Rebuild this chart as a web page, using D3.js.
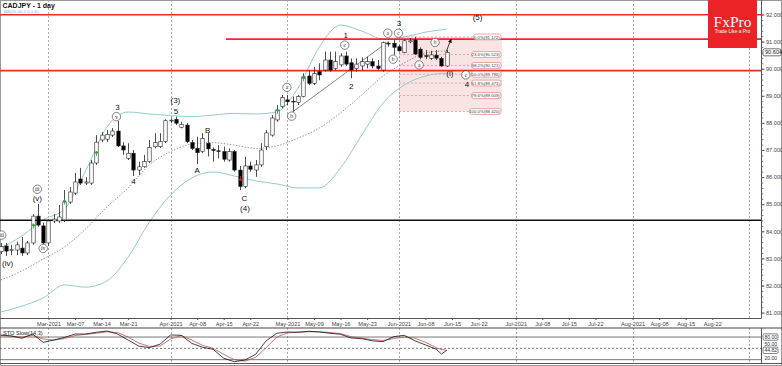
<!DOCTYPE html>
<html>
<head>
<meta charset="utf-8">
<script src="https://cdn.jsdelivr.net/npm/d3@7"></script>
<style>
  body { margin: 0; background: #fff; }
  svg { display: block; font-family: "Liberation Sans", Arial, sans-serif; }
</style>
</head>
<body>
<div id="app"></div>
<script>
// ---- data ----
const symbolTitle = "CADJPY - 1 day"
const bbTitle = "BB(20,20,2.0,1.0)"
const stoTitle = "STO Slow(14,3)"

const firstDay = "2021-02-16"
const lastAxisDay = "2021-09-10"

const open  = [83.25,83.46,83.30,83.31,83.38,83.20,83.57,84.56,84.20,83.57,84.38,84.38,84.42,85.08,85.41,85.93,85.78,85.78,86.52,87.37,87.40,87.55,87.70,87.15,86.69,86.88,86.26,86.38,86.57,87.12,87.12,87.31,88.08,88.13,87.84,87.92,87.27,87.06,86.94,87.25,87.02,86.97,86.94,86.63,86.94,86.26,85.65,86.41,86.26,86.45,87.12,87.55,88.11,88.60,88.85,88.80,88.75,88.97,89.73,89.46,89.89,89.95,90.32,90.01,90.14,90.47,90.22,90.01,90.10,90.17,90.26,90.10,89.95,90.94,90.94,90.81,90.59,90.99,91.06,90.72,90.48,90.38,90.50,90.38,90.10]
const high  = [83.57,83.57,83.50,83.62,83.79,83.64,84.64,85.01,84.31,84.45,84.64,84.97,85.52,85.63,86.15,86.34,86.00,86.63,87.55,87.66,87.74,87.81,88.07,87.29,87.25,87.00,86.57,86.82,87.37,87.62,87.62,88.13,88.17,88.23,88.04,88.00,87.37,87.49,87.62,87.62,87.10,87.18,87.12,87.06,87.00,86.41,86.75,86.57,86.63,87.25,87.74,88.29,88.66,89.03,89.03,88.97,89.03,89.83,89.95,90.07,90.20,90.63,90.63,90.63,90.57,90.63,90.38,90.38,90.42,90.44,90.38,90.32,91.00,91.00,91.06,90.87,91.08,91.12,91.17,90.79,90.69,90.66,90.69,90.44,90.69]
const low   = [83.16,83.09,83.12,83.12,83.09,83.12,83.50,84.16,83.50,83.46,84.31,84.31,84.34,85.01,85.34,85.71,85.71,85.71,86.45,87.29,87.29,87.48,87.11,86.82,86.63,86.04,86.08,86.34,86.51,87.06,87.07,87.26,87.99,87.92,87.80,87.25,87.00,86.48,86.88,86.76,86.57,86.69,86.57,86.57,86.20,85.52,85.59,86.20,86.01,86.38,87.00,87.49,88.04,88.54,88.66,88.41,88.66,88.94,89.40,89.40,89.58,89.89,89.89,89.95,90.07,90.10,89.65,89.89,89.95,90.01,90.01,89.95,89.89,90.81,90.51,90.63,90.57,90.94,90.51,90.35,90.35,90.32,90.32,90.07,90.07]
const close = [83.44,83.27,83.32,83.50,83.20,83.57,84.56,84.23,83.57,84.38,84.45,84.53,85.08,85.45,85.82,85.78,85.82,86.52,87.29,87.55,87.58,87.70,87.15,87.00,86.88,86.26,86.38,86.57,87.10,87.27,87.31,88.08,88.10,87.99,87.95,87.31,87.06,86.90,87.43,87.04,86.98,86.95,86.66,86.94,86.26,85.65,86.41,86.29,86.45,87.00,87.63,88.18,88.48,88.94,88.78,88.78,88.97,89.70,89.46,89.83,89.77,90.32,89.95,90.26,90.47,90.17,89.95,90.17,90.26,90.26,90.10,90.01,90.96,90.91,90.79,90.66,91.03,91.03,90.54,90.42,90.46,90.51,90.39,90.10,90.604]

// Bollinger bands read at every 4th bar
const bandIdx   = [0,4,8,12,16,20,24,28,32,36,40,44,48,52,56,60,64,68,72,76,80,84]
const bandUpper = [83.38,83.83,84.42,84.82,86.23,87.85,88.40,88.33,88.27,88.23,88.29,88.35,88.33,88.41,89.29,90.80,91.61,91.39,91.10,91.17,91.35,91.46]
const bandMid   = [82.20,82.54,82.98,83.42,84.09,84.90,85.60,86.45,86.94,87.22,87.27,87.18,87.06,87.15,87.44,87.81,88.37,89.03,89.73,90.21,90.58,90.66]
const bandLower = [81.02,81.24,81.54,82.02,81.94,82.17,83.05,84.34,85.34,85.97,86.19,86.04,85.86,85.75,85.60,85.60,86.34,87.55,88.73,89.40,89.73,89.84]

// stochastic
const stoIdx = [0,2,4,6,8,10,12,14,16,18,20,22,24,26,28,30,32,34,36,38,40,42,44,46,48,50,52,54,56,58,60,62,64,66,68,70,72,74,76,78,80,82,83,84]
const stoK = [85.5,83,76.7,88,66,72,79,88,88,92.6,96,88,72,56,52,61,85.5,84.6,63,53,47.5,23.6,14.6,19,34,70,90,93.4,92.6,95.3,93.4,90,87.3,77.5,75.7,70,67.7,81,84.6,70,59,48,35,44.82]
const stoD = [84,82,80,84,75,72,76,84,87,90,94,92,80,64,55,56,75,84,72,58,50,34,20,16,26,52,80,91,93,94,94,92,89,81,77,73,71,76,80,77,66,52,47,45]
const stoLevels = [80, 50, 20]

// axes
const priceTicks = [81,82,83,84,85,86,87,88,89,90,91,92]
const xTickLabels = ["Mar-2021","Mar-07","Mar-14","Mar-21","Apr-2021","Apr-08","Apr-15","Apr-22","May-2021","May-09","May-16","May-23","Jun-2021","Jun-08","Jun-15","Jun-22","Jul-2021","Jul-08","Jul-15","Jul-22","Aug-2021","Aug-08","Aug-15","Aug-22"]
const xTickDates = ["2021-03-01","2021-03-08","2021-03-15","2021-03-22","2021-04-01","2021-04-08","2021-04-15","2021-04-22","2021-05-03","2021-05-10","2021-05-17","2021-05-24","2021-06-01","2021-06-08","2021-06-15","2021-06-22","2021-07-01","2021-07-08","2021-07-15","2021-07-22","2021-08-02","2021-08-09","2021-08-16","2021-08-23"]
const monthStarts = ["2021-03-01","2021-04-01","2021-05-03","2021-06-01","2021-07-01","2021-08-02","2021-09-01"]

// horizontal levels
const redLevels = [{ p: 91.99, from: 0 }, { p: 91.09, from: 43 }, { p: 89.93, from: 0 }]
const blackLevel = 84.41

// fibonacci retracement
const fibPct = ["0.0%","23.6%","38.2%","50.0%","61.8%","78.6%","100.0%"]
const fibPrice = [91.172,90.523,90.121,89.796,89.471,89.009,88.420]
const fibFrom = 75, fibTo = 94.4

// wave labels: [bar index, price, text, circled]
const waveLabels = [
  [0.2,83.86,"iii",true],[1.3,82.83,"(iv)",false],[6.9,85.55,"iii",true],[6.9,85.22,"(v)",false],
  [8.0,83.37,"iv",true],[22.0,88.60,"3",false],[21.8,88.23,"v",true],[25.0,85.86,"4",false],
  [32.9,88.86,"(3)",false],[33.0,88.45,"5",false],[37.0,86.26,"A",false],[39.0,87.74,"B",false],
  [45.9,85.22,"C",false],[46.0,84.87,"(4)",false],[53.9,89.31,"a",true],[54.8,88.25,"b",true],
  [65.0,91.24,"1",false],[64.8,90.87,"c",true],[66.0,89.36,"2",false],[72.9,91.31,"a",true],
  [74.9,91.31,"c",true],[75.0,91.70,"3",false],[73.9,90.35,"b",true],[78.8,90.14,"a",true],
  [81.8,90.97,"b",true],[84.6,89.84,"(i)",false],[87.6,89.77,"c",true],[87.8,89.44,"4",false],
  [89.8,91.90,"(5)",false]
]
const trendLine = [[55, 88.41], [73, 91.00]]
const forecastArrow = [[83.9, 90.63], [84.8, 91.08]]
const signalUp = [[6, 84.17], [12, 85.06], [18, 86.85], [52, 88.41], [57, 89.61]]
const signalDown = [[45, 85.96]]

// ---- layout ----
const W = 782, H = 366
const plotRight = 761.5, plotBottom = 318
const oscTop = 328, oscBottom = 363.5

const svg = d3.select('#app').append('svg').attr('width', W).attr('height', H)

const dayKey = d3.timeFormat('%Y-%m-%d')
const parse = d3.timeParse('%Y-%m-%d')
const tradingDays = d3.timeDay.range(parse(firstDay), parse(lastAxisDay))
  .filter(d => d.getDay() !== 0 && d.getDay() !== 6)
const dayIndex = new Map(tradingDays.map((d, i) => [dayKey(d), i]))

const step = 5.31
const xScale = d3.scaleLinear().domain([0, 143]).range([0.7, 0.7 + 143 * step])
const yScale = d3.scaleLinear().domain([81, 92]).range([312.6, 14.5])
const sScale = d3.scaleLinear().domain([0, 100]).range([367.2, 329.5])

const defs = svg.append('defs')
defs.append('clipPath').attr('id', 'mainClip').append('rect')
  .attr('x', 0).attr('y', 0).attr('width', plotRight).attr('height', plotBottom)
defs.append('clipPath').attr('id', 'oscClip').append('rect')
  .attr('x', 0).attr('y', oscTop).attr('width', plotRight).attr('height', oscBottom - oscTop)

// frame
svg.append('rect').attr('x', 0.5).attr('y', 0.5).attr('width', W - 1).attr('height', H - 1)
  .attr('fill', 'none').attr('stroke', '#999')

// month grid
const grid = svg.append('g')
monthStarts.forEach(m => {
  const x = Math.round(xScale(dayIndex.get(m))) + 0.5
  grid.append('line').attr('x1', x).attr('x2', x).attr('y1', 0).attr('y2', plotBottom)
    .attr('stroke', '#aaa').attr('stroke-dasharray', '2,2')
  grid.append('line').attr('x1', x).attr('x2', x).attr('y1', oscTop).attr('y2', oscBottom)
    .attr('stroke', '#aaa').attr('stroke-dasharray', '2,2')
})

const main = svg.append('g').attr('clip-path', 'url(#mainClip)')

// fibonacci zone
const fibG = main.append('g')
fibG.append('rect')
  .attr('x', xScale(fibFrom)).attr('width', xScale(fibTo) - xScale(fibFrom))
  .attr('y', yScale(fibPrice[0])).attr('height', yScale(fibPrice[6]) - yScale(fibPrice[0]))
  .attr('fill', 'rgba(220,90,90,0.16)')
fibPrice.forEach(p => {
  fibG.append('line').attr('x1', xScale(fibFrom)).attr('x2', xScale(fibTo))
    .attr('y1', yScale(p)).attr('y2', yScale(p))
    .attr('stroke', '#e08a8a').attr('stroke-width', 0.7).attr('stroke-dasharray', '2,2')
})

// bands
const bandLine = vals => d3.line()
  .x((d, i) => xScale(bandIdx[i])).y(d => yScale(d))
  .curve(d3.curveMonotoneX)(vals)
main.append('path').attr('d', bandLine(bandUpper)).attr('fill', 'none').attr('stroke', '#94cccc')
main.append('path').attr('d', bandLine(bandLower)).attr('fill', 'none').attr('stroke', '#94cccc')
main.append('path').attr('d', bandLine(bandMid)).attr('fill', 'none').attr('stroke', '#999')
  .attr('stroke-dasharray', '1.5,1.5')

// horizontal levels
redLevels.forEach(l => {
  main.append('line').attr('x1', xScale(l.from) - 3).attr('x2', plotRight)
    .attr('y1', yScale(l.p)).attr('y2', yScale(l.p))
    .attr('stroke', '#f02828').attr('stroke-width', 1.6)
})
main.append('line').attr('x1', 0).attr('x2', plotRight)
  .attr('y1', yScale(blackLevel)).attr('y2', yScale(blackLevel))
  .attr('stroke', '#111').attr('stroke-width', 1.5)

// trend line
main.append('line')
  .attr('x1', xScale(trendLine[0][0])).attr('y1', yScale(trendLine[0][1]))
  .attr('x2', xScale(trendLine[1][0])).attr('y2', yScale(trendLine[1][1]))
  .attr('stroke', '#555').attr('stroke-width', 0.7)

// candles
const candles = d3.range(close.length).map(i => ({ i, o: open[i], h: high[i], l: low[i], c: close[i] }))
const bodyW = 3.4
const cg = main.append('g').selectAll('g').data(candles).join('g')
cg.append('line')
  .attr('x1', d => Math.round(xScale(d.i)) + 0.5).attr('x2', d => Math.round(xScale(d.i)) + 0.5)
  .attr('y1', d => yScale(d.h)).attr('y2', d => yScale(d.l))
  .attr('stroke', '#222').attr('stroke-width', 0.8)
cg.append('rect')
  .attr('x', d => Math.round(xScale(d.i)) + 0.5 - bodyW / 2)
  .attr('width', bodyW)
  .attr('y', d => yScale(Math.max(d.o, d.c)))
  .attr('height', d => Math.max(0.8, Math.abs(yScale(d.o) - yScale(d.c))))
  .attr('fill', d => d.c >= d.o ? '#fff' : '#000')
  .attr('stroke', '#222').attr('stroke-width', 0.6)

// signal markers
const arrowPath = (x, y, up) => {
  const s = up ? 1 : -1
  return `M${x},${y - 3 * s}L${x - 1.6},${y - 1 * s}L${x + 1.6},${y - 1 * s}Z M${x},${y - 1 * s}L${x},${y + 2 * s}`
}
signalUp.forEach(([i, p]) => {
  main.append('path').attr('d', arrowPath(Math.round(xScale(i)) + 0.5, yScale(p), true))
    .attr('fill', '#2e9e3a').attr('stroke', '#2e9e3a').attr('stroke-width', 0.8)
})
signalDown.forEach(([i, p]) => {
  main.append('path').attr('d', arrowPath(Math.round(xScale(i)) + 0.5, yScale(p), false))
    .attr('fill', '#d22').attr('stroke', '#d22').attr('stroke-width', 0.8)
})

// forecast arrow
defs.append('marker').attr('id', 'ah').attr('viewBox', '0 0 10 10').attr('refX', 8).attr('refY', 5)
  .attr('markerWidth', 5).attr('markerHeight', 5).attr('orient', 'auto')
  .append('path').attr('d', 'M0,0L10,5L0,10Z').attr('fill', '#000')
main.append('line')
  .attr('x1', xScale(forecastArrow[0][0])).attr('y1', yScale(forecastArrow[0][1]))
  .attr('x2', xScale(forecastArrow[1][0])).attr('y2', yScale(forecastArrow[1][1]))
  .attr('stroke', '#000').attr('stroke-width', 0.8).attr('marker-end', 'url(#ah)')

// fib labels
fibPrice.forEach((p, k) => {
  const txt = `${fibPct[k]}(${p.toFixed(3)})`
  const bw = txt.length * 2.1 + 2
  const x1 = xScale(fibTo) - 1
  main.append('rect').attr('x', x1 - bw).attr('y', yScale(p) - 2.9).attr('width', bw).attr('height', 5.8)
    .attr('rx', 2).attr('fill', '#fff').attr('stroke', '#e07070').attr('stroke-width', 0.6)
  main.append('text').attr('x', x1 - 1.2).attr('y', yScale(p) + 1.6)
    .attr('text-anchor', 'end').attr('font-size', 4.3).attr('fill', '#444').text(txt)
})

// wave labels
waveLabels.forEach(([i, p, t, circled]) => {
  const x = xScale(i), y = yScale(p)
  if (circled) {
    main.append('circle').attr('cx', x).attr('cy', y).attr('r', 4.2)
      .attr('fill', '#fff').attr('stroke', '#333').attr('stroke-width', 0.6)
    main.append('text').attr('x', x).attr('y', y + 1.9).attr('text-anchor', 'middle')
      .attr('font-size', 5.5).attr('font-family', '"Liberation Serif", serif').attr('fill', '#222').text(t)
  } else {
    main.append('text').attr('x', x).attr('y', y + 3).attr('text-anchor', 'middle')
      .attr('font-size', 8).attr('fill', '#111').text(t)
  }
})

// price axis
const yAxis = svg.append('g').attr('transform', `translate(${plotRight},0)`)
  .call(d3.axisRight(yScale).tickValues(priceTicks).tickFormat(d3.format('.3f')).tickSize(3).tickPadding(1.5))
yAxis.select('.domain').remove()
yAxis.selectAll('text').attr('font-size', 5.6).attr('fill', '#444')
yAxis.selectAll('line').attr('stroke', '#555')
svg.append('g').attr('transform', `translate(${plotRight},0)`)
  .call(d3.axisRight(yScale).tickValues(d3.range(81, 92.05, 0.2)).tickFormat('').tickSize(1.8))
  .call(g => g.select('.domain').remove())
  .selectAll('line').attr('stroke', '#777')
svg.append('line').attr('x1', plotRight).attr('x2', plotRight).attr('y1', 0).attr('y2', plotBottom)
  .attr('stroke', '#555')

// current price box
const last = close[close.length - 1]
svg.append('rect').attr('x', plotRight + 1.5).attr('y', yScale(last) - 3.5).attr('width', 18).attr('height', 7)
  .attr('rx', 1.5).attr('fill', '#fff').attr('stroke', '#333').attr('stroke-width', 0.7)
svg.append('text').attr('x', plotRight + 3.5).attr('y', yScale(last) + 2)
  .attr('font-size', 5.6).attr('fill', '#222').text(last.toFixed(3))

// time axis
svg.append('line').attr('x1', 0).attr('x2', plotRight).attr('y1', plotBottom + 0.5).attr('y2', plotBottom + 0.5)
  .attr('stroke', '#555')
const xAxis = svg.append('g').attr('transform', `translate(0,${plotBottom})`)
  .call(d3.axisBottom(xScale).tickValues(xTickDates.map(d => dayIndex.get(d)))
    .tickFormat((d, k) => xTickLabels[k]).tickSize(2).tickPadding(2))
xAxis.select('.domain').remove()
xAxis.selectAll('text').attr('font-size', 5.6).attr('fill', '#444')
xAxis.selectAll('line').attr('stroke', '#555')

// oscillator panel
svg.append('line').attr('x1', 0).attr('x2', W).attr('y1', oscTop).attr('y2', oscTop)
  .attr('stroke', '#444').attr('stroke-width', 1.2)
svg.append('line').attr('x1', 0).attr('x2', W).attr('y1', oscBottom).attr('y2', oscBottom)
  .attr('stroke', '#555')
svg.append('line').attr('x1', plotRight).attr('x2', plotRight).attr('y1', oscTop).attr('y2', oscBottom)
  .attr('stroke', '#555')
stoLevels.forEach(v => {
  svg.append('line').attr('x1', 0).attr('x2', plotRight).attr('y1', sScale(v)).attr('y2', sScale(v))
    .attr('stroke', '#555').attr('stroke-width', 0.8)
    .attr('stroke-dasharray', v === 50 ? '2,2' : null)
})
const osc = svg.append('g').attr('clip-path', 'url(#oscClip)')
const stoLine = vals => d3.line().x((d, k) => xScale(stoIdx[k])).y(d => sScale(d))(vals)
osc.append('path').attr('d', stoLine(stoD)).attr('fill', 'none').attr('stroke', '#c0504d').attr('stroke-width', 0.8)
osc.append('path').attr('d', stoLine(stoK)).attr('fill', 'none').attr('stroke', '#111').attr('stroke-width', 0.8)

svg.append('text').attr('x', 3).attr('y', 334.5).attr('font-size', 5.6).attr('fill', '#222').text(stoTitle)

const oscLabels = [[80, '80.00', true, 80], [50, '50.00', false, 60], [44.82, '44.82', true, 44.82], [20, '20.00', false, 24]]
oscLabels.forEach(([v, t, boxed, at]) => {
  const y = sScale(at)
  if (boxed) {
    svg.append('rect').attr('x', plotRight + 1.5).attr('y', y - 3.2).attr('width', 15).attr('height', 6.4)
      .attr('rx', 1.5).attr('fill', '#fff').attr('stroke', '#333').attr('stroke-width', 0.6)
  }
  svg.append('text').attr('x', plotRight + 3).attr('y', y + 1.9).attr('font-size', 5).attr('fill', '#333').text(t)
})

// titles
svg.append('text').attr('x', 2.5).attr('y', 7.5).attr('font-size', 7).attr('font-weight', 'bold')
  .attr('fill', '#111').text(symbolTitle)
svg.append('text').attr('x', 4).attr('y', 12.8).attr('font-size', 4.4).attr('fill', '#7ab8b8').text(bbTitle)

// logo
const logo = svg.append('g')
logo.append('rect').attr('x', 708).attr('y', 0).attr('width', 49).attr('height', 48).attr('fill', '#ec2227')
logo.append('text').attr('x', 732.5).attr('y', 27).attr('text-anchor', 'middle')
  .attr('font-family', '"Liberation Serif", "DejaVu Serif", serif').attr('font-size', 15.5)
  .attr('fill', '#fff').text('FxPro')
logo.append('text').attr('x', 732.5).attr('y', 33).attr('text-anchor', 'middle')
  .attr('font-size', 4.8).attr('fill', '#fff').text('Trade Like a Pro')
</script>
</body>
</html>
